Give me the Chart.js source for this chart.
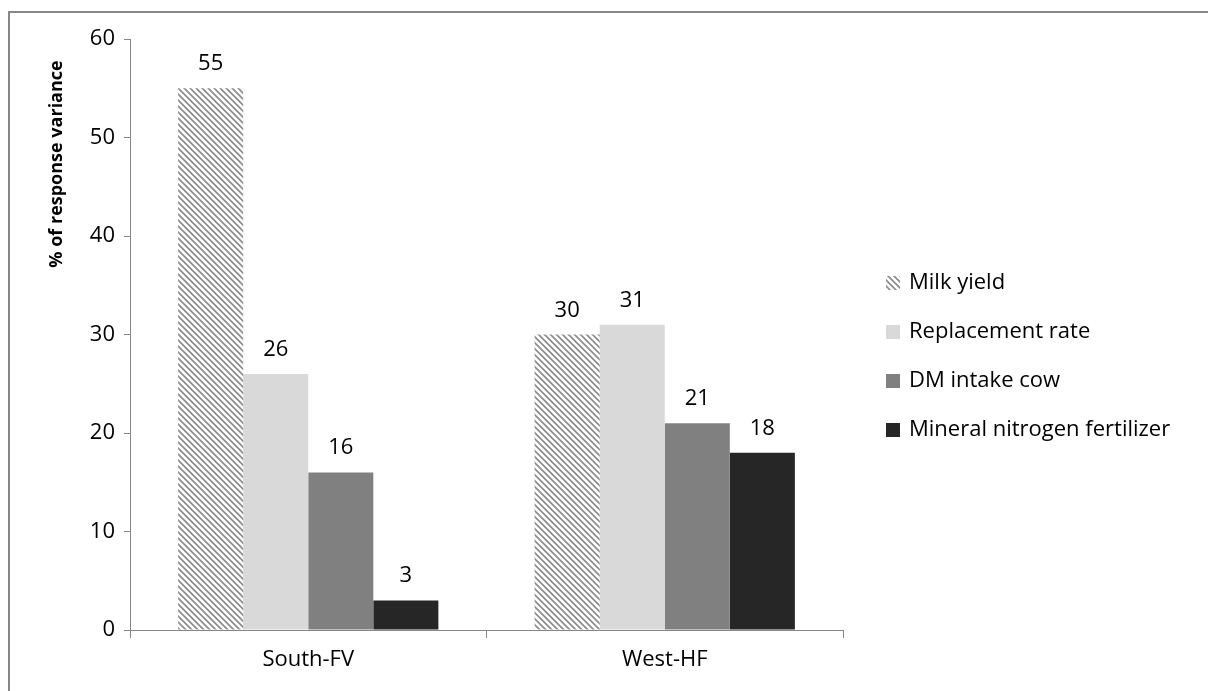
<!DOCTYPE html>
<html>
<head>
<meta charset="utf-8">
<script src="https://cdn.jsdelivr.net/npm/chart.js@4.4.1/dist/chart.umd.min.js"></script>
<style>
  html, body { margin: 0; padding: 0; background: #ffffff; }
  #wrap { position: relative; width: 1208px; height: 691px; }
  canvas { display: block; }
</style>
</head>
<body>
<div id="wrap"><canvas id="c" width="1208" height="691"></canvas></div>
<script>
// Regions on the x axis
const categories = ['South-FV', 'West-HF'];

// Share of response variance (%) per parameter
const milkYield = [55, 30];
const replacementRate = [26, 31];
const dmIntakeCow = [16, 21];
const mineralNitrogen = [3, 18];

const seriesNames = ['Milk yield', 'Replacement rate', 'DM intake cow', 'Mineral nitrogen fertilizer'];

// Y axis range
const yMin = 0;
const yMax = 60;
const yStep = 10;

const FONT = '"Open Sans", "Liberation Sans", sans-serif';
const FONT_SIZE = 22;
const AXIS_GREY = '#868686';

// Diagonal hatch fill for the milk yield bars
function makeHatch() {
  const size = 6;
  const tile = document.createElement('canvas');
  tile.width = size; tile.height = size;
  const t = tile.getContext('2d');
  t.fillStyle = '#ffffff';
  t.fillRect(0, 0, size, size);
  t.strokeStyle = '#8a8a8a';
  t.lineWidth = 1.6;
  t.beginPath();
  t.moveTo(-1, -1); t.lineTo(size + 1, size + 1);
  t.moveTo(-1, size - 1); t.lineTo(1, size + 1);
  t.moveTo(size - 1, -1); t.lineTo(size + 1, 1);
  t.stroke();
  return t.createPattern(tile, 'repeat');
}

const ctx = document.getElementById('c').getContext('2d');
const hatch = makeHatch();

// Outer frame, value labels, axis title and legend
const decorations = {
  id: 'decorations',
  beforeDraw(chart) {
    const c = chart.ctx;
    c.save();
    c.fillStyle = '#ffffff';
    c.fillRect(0, 0, chart.width, chart.height);
    c.strokeStyle = AXIS_GREY;
    c.lineWidth = 2;
    c.strokeRect(9, 12, chart.width + 20, chart.height + 20);
    c.restore();
  },
  afterDatasetsDraw(chart) {
    const c = chart.ctx;
    c.save();
    c.font = FONT_SIZE + 'px ' + FONT;
    c.fillStyle = '#000000';
    c.textAlign = 'center';
    c.textBaseline = 'alphabetic';
    chart.data.datasets.forEach((ds, di) => {
      const meta = chart.getDatasetMeta(di);
      meta.data.forEach((bar, i) => {
        c.fillText(String(ds.data[i]), bar.x, bar.y - 18);
      });
    });

    // y axis title
    c.font = 'bold 18px ' + FONT;
    c.translate(57, 164);
    c.rotate(-Math.PI / 2);
    c.textAlign = 'center';
    c.textBaseline = 'middle';
    c.fillText('% of response variance', 0, 0);
    c.restore();

    // legend
    c.save();
    c.font = FONT_SIZE + 'px ' + FONT;
    c.textBaseline = 'middle';
    c.textAlign = 'left';
    chart.data.datasets.forEach((ds, di) => {
      const y = 283 + di * 49;
      c.fillStyle = ds.backgroundColor;
      c.fillRect(886, y - 7, 14, 14);
      c.fillStyle = '#000000';
      c.fillText(ds.label, 909, y);
    });
    c.restore();
  }
};

new Chart(ctx, {
  type: 'bar',
  data: {
    labels: categories,
    datasets: [
      { label: seriesNames[0], data: milkYield, backgroundColor: hatch },
      { label: seriesNames[1], data: replacementRate, backgroundColor: '#d9d9d9' },
      { label: seriesNames[2], data: dmIntakeCow, backgroundColor: '#808080' },
      { label: seriesNames[3], data: mineralNitrogen, backgroundColor: '#262626' }
    ]
  },
  options: {
    responsive: false,
    animation: false,
    devicePixelRatio: 1,
    layout: { padding: { left: 0, top: 39, right: 365, bottom: 0 } },
    datasets: {
      bar: { categoryPercentage: 0.73, barPercentage: 1.0, borderWidth: 0 }
    },
    plugins: {
      legend: { display: false },
      tooltip: { enabled: false },
      title: { display: false }
    },
    scales: {
      x: {
        afterFit(scale) { scale.height = 61; },
        grid: {
          offset: true,
          drawOnChartArea: false,
          drawTicks: true,
          tickLength: 8,
          color: AXIS_GREY
        },
        border: { display: true, color: AXIS_GREY, width: 1 },
        ticks: {
          color: '#000000',
          font: { family: FONT, size: FONT_SIZE },
          padding: 9
        }
      },
      y: {
        min: yMin,
        max: yMax,
        afterFit(scale) { scale.width = 130; },
        grid: {
          drawOnChartArea: false,
          drawTicks: true,
          tickLength: 6,
          color: AXIS_GREY
        },
        border: { display: true, color: AXIS_GREY, width: 1 },
        ticks: {
          stepSize: yStep,
          color: '#000000',
          font: { family: FONT, size: FONT_SIZE },
          padding: 9
        }
      }
    }
  },
  plugins: [decorations]
});
</script>
</body>
</html>
